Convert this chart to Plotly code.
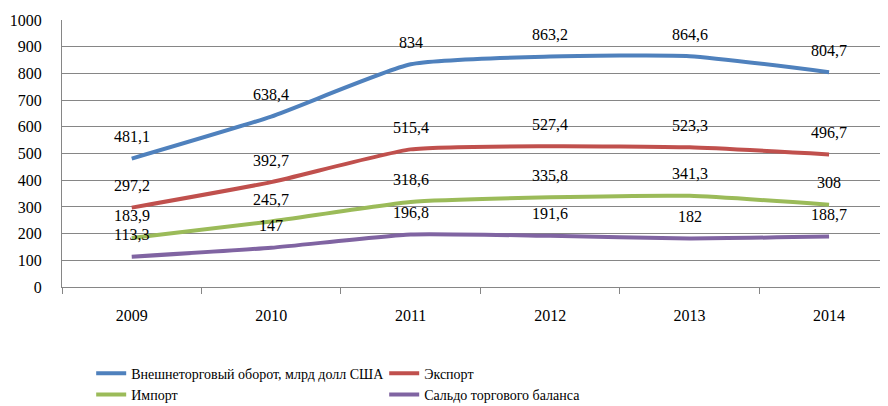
import plotly.graph_objects as go

years = ['2009', '2010', '2011', '2012', '2013', '2014']
turnover = [481.1, 638.4, 834, 863.2, 864.6, 804.7]
export = [297.2, 392.7, 515.4, 527.4, 523.3, 496.7]
imports = [183.9, 245.7, 318.6, 335.8, 341.3, 308]
saldo = [113.3, 147, 196.8, 191.6, 182, 188.7]

series = [
    ('Внешнеторговый оборот, млрд долл США', turnover, '#4F81BD'),
    ('Экспорт', export, '#C0504D'),
    ('Импорт', imports, '#9BBB59'),
    ('Сальдо торгового баланса', saldo, '#8064A2'),
]

FONT = 'Liberation Serif, Times New Roman, serif'

fig = go.Figure()
for name, vals, color in series:
    fig.add_trace(go.Scatter(
        x=years, y=vals, name=name, mode='lines',
        line={'color': color, 'width': 4, 'shape': 'spline', 'smoothing': 0.5},
    ))
    # data labels above each point (x as category index)
    for i, v in enumerate(vals):
        fig.add_annotation(
            x=i, y=v, text=f'{v:g}'.replace('.', ','), showarrow=False,
            xref='x', yref='y', yshift=22,
            font={'size': 16, 'color': '#000000', 'family': FONT},
        )

# the page body has an 8px margin, so the figure is shifted by 8px
fig.update_layout(
    width=888, height=406,
    margin={'l': 54, 'r': 0, 't': 12, 'b': 127, 'autoexpand': False},
    plot_bgcolor='white', paper_bgcolor='white',
    font={'family': FONT, 'size': 16, 'color': '#000000'},
    xaxis={
        'type': 'category', 'range': [-0.5, 5.48], 'automargin': False,
        'showgrid': False, 'showline': True, 'linecolor': '#868686', 'linewidth': 1,
        'ticks': 'outside', 'tickson': 'boundaries', 'ticklen': 6, 'tickcolor': '#868686',
        'ticklabelstandoff': 14, 'tickfont': {'size': 16, 'family': FONT},
    },
    yaxis={
        'range': [0, 1000], 'dtick': 100, 'automargin': False,
        'showgrid': True, 'gridcolor': '#868686', 'gridwidth': 1,
        'showline': True, 'linecolor': '#868686', 'linewidth': 1,
        'zeroline': False, 'ticks': '', 'ticklabelstandoff': 16,
        'tickfont': {'size': 16, 'family': FONT},
    },
    legend={
        'orientation': 'h', 'x': 0.035, 'y': -0.265, 'xanchor': 'left', 'yanchor': 'top',
        'entrywidth': 248, 'entrywidthmode': 'pixels', 'itemwidth': 30,
        'font': {'size': 14, 'family': FONT}, 'tracegroupgap': 0,
    },
    showlegend=True,
)

fig.write_html('out.html')
